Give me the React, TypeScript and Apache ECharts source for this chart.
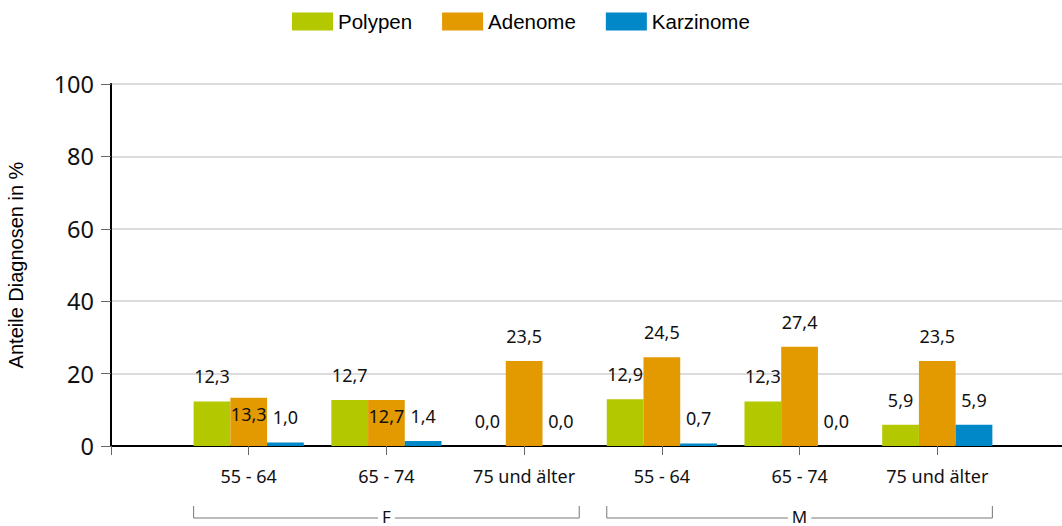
import React, { useEffect, useRef } from "react";
import * as echarts from "echarts";

const categories = ["55 - 64", "65 - 74", "75 und älter", "55 - 64", "65 - 74", "75 und älter"];
const groups = [
  { name: "F", from: 0, to: 2 },
  { name: "M", from: 3, to: 5 },
];
const seriesNames = ["Polypen", "Adenome", "Karzinome"];
const polypen = [12.3, 12.7, 0.0, 12.9, 12.3, 5.9];
const adenome = [13.3, 12.7, 23.5, 24.5, 27.4, 23.5];
const karzinome = [1.0, 1.4, 0.0, 0.7, 0.0, 5.9];
const yTicks = [0, 20, 40, 60, 80, 100];
const colors = ["#B4C800", "#E39A00", "#0088C8"];
// label indices placed inside the bar (as in the original, to avoid overlap)
const insideLabels: Record<number, number[]> = { 1: [0, 1] };

const fmt = (v: number) => v.toFixed(1).replace(".", ",");
const TEXT_FONT = "'Noto Sans', 'Open Sans', sans-serif";
const ARIAL = "'Liberation Sans', Arial, sans-serif";

export default function App() {
  const ref = useRef<HTMLDivElement>(null);
  useEffect(() => {
    if (!ref.current) return;
    const chart = echarts.init(ref.current, null, { renderer: "svg" });
    const all = [polypen, adenome, karzinome];
    const series = all.map((vals, s) => ({
      name: seriesNames[s],
      type: "bar",
      barGap: "0%",
      barCategoryGap: "20%",
      itemStyle: { color: colors[s] },
      label: {
        show: true,
        position: "top",
        distance: 16,
        fontFamily: TEXT_FONT,
        fontSize: 18,
        color: "#111",
        formatter: (p: any) => fmt(p.value[1]),
      },
      data: vals.map((v, i) => {
        const item: any = { value: [i + 1, v] };
        if ((insideLabels[s] || []).includes(i)) {
          item.label = { position: "insideTop", distance: 7 };
        }
        return item;
      }),
    }));
    chart.setOption({
      animation: false,
      legend: {
        top: 6,
        left: 287,
        icon: "rect",
        itemWidth: 41,
        itemHeight: 18,
        itemGap: 30,
        textStyle: { fontFamily: ARIAL, fontSize: 20.5, color: "#000" },
        data: seriesNames,
      },
      grid: { left: 111, right: -13, top: 84, bottom: 80, outerBoundsMode: "none", containLabel: false },
      xAxis: {
        type: "value",
        min: 0,
        max: categories.length + 1,
        interval: 1,
        axisLine: { show: true, lineStyle: { color: "#000", width: 2 } },
        axisTick: { show: true, length: 9, lineStyle: { color: "#666" } },
        splitLine: { show: false },
        axisLabel: {
          margin: 21,
          fontFamily: TEXT_FONT,
          fontSize: 18,
          color: "#111",
          formatter: (v: number) => categories[v - 1] ?? "",
        },
      },
      yAxis: {
        type: "value",
        min: yTicks[0],
        max: yTicks[yTicks.length - 1],
        interval: yTicks[1] - yTicks[0],
        name: "Anteile Diagnosen in %",
        nameLocation: "middle",
        nameRotate: 90,
        nameGap: 85,
        nameTextStyle: { fontFamily: ARIAL, fontSize: 20, color: "#000" },
        axisLine: { show: true, lineStyle: { color: "#000", width: 2 } },
        axisTick: { show: true, length: 10, lineStyle: { color: "#666" } },
        splitLine: { show: true, lineStyle: { color: "#dcdcdc", width: 2 } },
        axisLabel: {
          margin: 17,
          fontFamily: TEXT_FONT,
          fontSize: 23.5,
          color: "#111",
        },
      },
      series,
    });

    const graphics: any[] = [];
    const yLine = 518;
    const yTop = 506;
    groups.forEach((g) => {
      const x1 = chart.convertToPixel({ xAxisIndex: 0 }, g.from + 1 - 0.4) as number;
      const x2 = chart.convertToPixel({ xAxisIndex: 0 }, g.to + 1 + 0.4) as number;
      const style = { stroke: "#777", lineWidth: 1 };
      graphics.push(
        { type: "polyline", shape: { points: [[x1, yTop], [x1, yLine], [x2, yLine], [x2, yTop]] }, style: { ...style, fill: "none" } },
        {
          type: "text",
          x: (x1 + x2) / 2,
          y: yLine - 2,
          style: {
            text: g.name,
            fontFamily: TEXT_FONT,
            fontSize: 17,
            fill: "#111",
            align: "center",
            verticalAlign: "middle",
            backgroundColor: "#fff",
            padding: [0, 4],
          },
        }
      );
    });
    chart.setOption({ graphic: graphics });
    return () => chart.dispose();
  }, []);
  return (
    <div
      ref={ref}
      style={{ position: "fixed", left: 0, top: 0, width: 1062, height: 526, background: "#fff" }}
    />
  );
}
